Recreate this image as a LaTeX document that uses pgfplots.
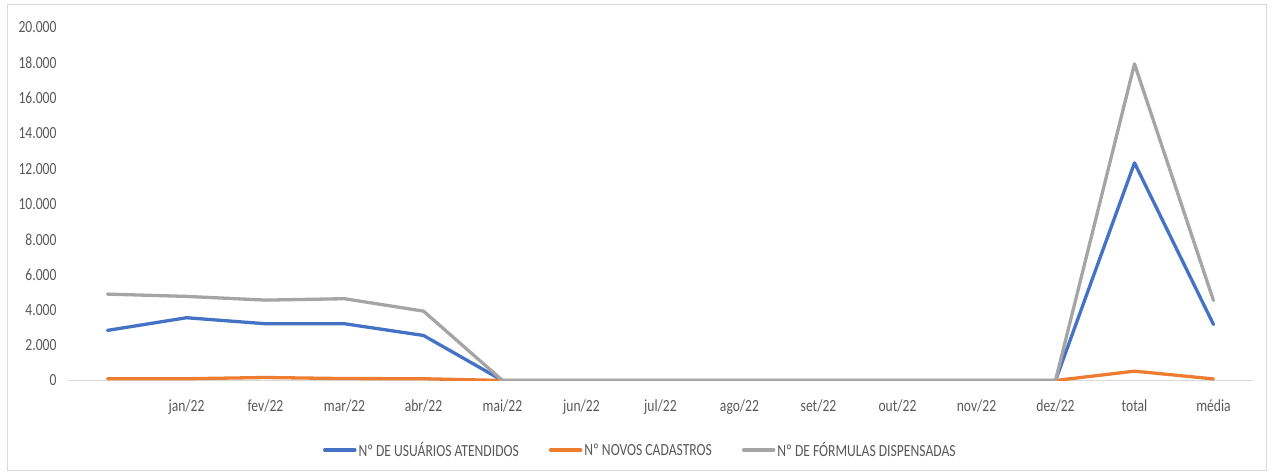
\documentclass[border=0pt]{standalone}
\usepackage{fontspec}
\setmainfont{Carlito}[FakeStretch=0.8]
\usepackage{pgfplots}
\pgfplotsset{compat=1.18}
\definecolor{cblue}{HTML}{4472C4}
\definecolor{corange}{HTML}{ED7D31}
\definecolor{cgray}{HTML}{A5A5A5}
\definecolor{ctext}{HTML}{595959}
\definecolor{cframe}{HTML}{D9D9D9}
\begin{document}
\begin{tikzpicture}[x=1pt,y=1pt]
\path[use as bounding box] (0,0) rectangle (1273,475);
\draw[cframe, line width=1pt] (7.5,5) rectangle (1266,470);
\begin{axis}[
 at={(68pt,94.5pt)}, anchor=south west,
 scale only axis, width=1185pt, height=353pt,
 xmin=-0.5, xmax=14.5, ymin=0, ymax=20000,
 axis line style={draw=none},
 tick style={draw=none},
 major tick length=0pt,
 xtick={0,...,14},
 xticklabels={,jan/22,fev/22,mar/22,abr/22,mai/22,jun/22,jul/22,ago/22,set/22,out/22,nov/22,dez/22,total,média},
 ytick={0,2000,...,20000},
 scaled y ticks=false,
 /pgf/number format/fixed,
 /pgf/number format/1000 sep={.},
 /pgf/number format/assume math mode=true,
 ticklabel style={font=\fontsize{17}{20}\selectfont, text=ctext},
 yticklabel style={xshift=-8pt},
 xticklabel style={yshift=-16pt},
 extra y ticks={0},
 extra y tick labels={},
 extra y tick style={ymajorgrids=true, major grid style={cframe, line width=1pt}},
 legend columns=3,
 legend style={at={(axis description cs:0.483,-0.197)}, anchor=center, draw=none,
   font=\fontsize{17}{20}\selectfont, text=ctext,
   /tikz/every even column/.append style={column sep=28pt}},
 legend image code/.code={\draw[#1, line width=3.5pt, line cap=round] (0pt,0pt) -- (30pt,0pt);},
 every axis plot/.append style={line width=3.3pt, line join=round, line cap=round, mark=none},
]
\addplot[cblue] coordinates {(0,2840) (1,3556) (2,3216) (3,3216) (4,2552) (5,0) (6,0) (7,0) (8,0) (9,0) (10,0) (11,0) (12,0) (13,12330) (14,3170)};
\addlegendentry{Nº DE USUÁRIOS ATENDIDOS}
\addplot[corange] coordinates {(0,96) (1,100) (2,170) (3,110) (4,100) (5,0) (6,0) (7,0) (8,0) (9,0) (10,0) (11,0) (12,0) (13,530) (14,90)};
\addlegendentry{Nº NOVOS CADASTROS}
\addplot[cgray] coordinates {(0,4895) (1,4765) (2,4555) (3,4634) (4,3931) (5,0) (6,0) (7,0) (8,0) (9,0) (10,0) (11,0) (12,0) (13,17940) (14,4530)};
\addlegendentry{Nº DE FÓRMULAS DISPENSADAS}
\end{axis}
\end{tikzpicture}
\end{document}
